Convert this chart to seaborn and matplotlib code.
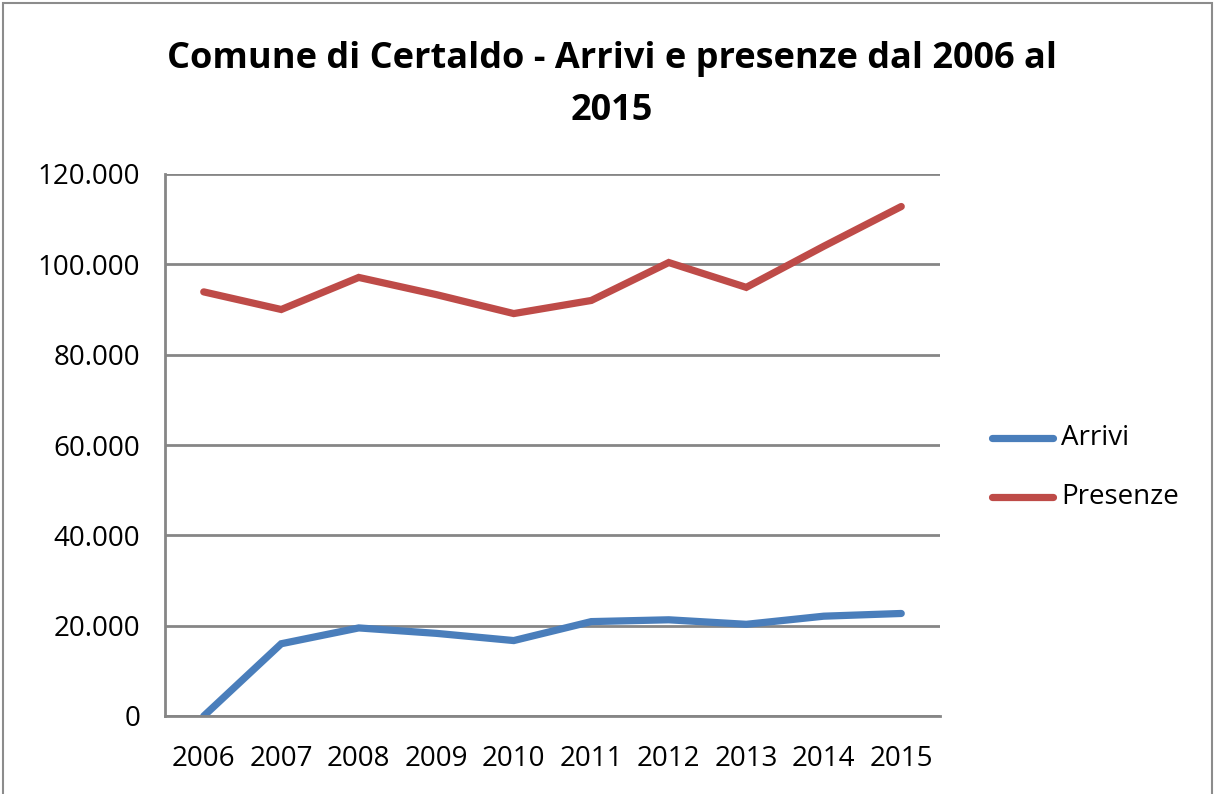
import matplotlib
matplotlib.use("Agg")
import matplotlib.pyplot as plt
import seaborn as sns
import pandas as pd
from matplotlib.patches import Rectangle

anni = ["2006", "2007", "2008", "2009", "2010", "2011", "2012", "2013", "2014", "2015"]
arrivi = [0, 16000, 19500, 18300, 16700, 20900, 21300, 20300, 22100, 22700]
presenze = [93900, 90000, 97100, 93300, 89100, 92000, 100400, 94900, 104000, 112800]
serie = ["Arrivi", "Presenze"]
colori = ["#4A7EBB", "#BE4B48"]
y_ticks = [0, 20000, 40000, 60000, 80000, 100000, 120000]

df = pd.DataFrame({
    "Anno": anni * 2,
    "pos": list(range(len(anni))) * 2,
    "Valore": arrivi + presenze,
    "Serie": [serie[0]] * len(anni) + [serie[1]] * len(anni),
})

sns.set_theme(style="white")
plt.rcParams["font.family"] = ["Open Sans", "DejaVu Sans"]
plt.rcParams["text.color"] = "black"

fig = plt.figure(figsize=(12.15, 7.94), dpi=100)
ax = fig.add_axes([165 / 1215, 1 - 716 / 794, (940 - 165) / 1215, (716 - 174) / 794])

sns.lineplot(data=df, x="pos", y="Valore", hue="Serie", palette=colori,
             linewidth=5.2, ax=ax, legend=False, solid_capstyle="round",
             solid_joinstyle="miter")

ax.set_xlim(-0.5, len(anni) - 0.5)
ax.set_ylim(0, 120000)
ax.set_yticks(y_ticks)
ax.set_yticklabels([f"{v:,}".replace(",", ".") for v in y_ticks])
ax.set_xticks(range(len(anni)))
ax.set_xticklabels(anni)
ax.tick_params(axis="both", length=0, labelsize=20, colors="#000000")
ax.tick_params(axis="y", pad=18)
ax.tick_params(axis="x", pad=21)
ax.set_xlabel("")
ax.set_ylabel("")
ax.yaxis.grid(True, color="#868686", linewidth=2.0)
ax.set_axisbelow(True)
for s in ["top", "right"]:
    ax.spines[s].set_visible(False)
for s in ["left", "bottom"]:
    ax.spines[s].set_color("#868686")
    ax.spines[s].set_linewidth(2.0)

fig.text(612 / 1215, 1 - 85 / 794,
         "Comune di Certaldo - Arrivi e presenze dal 2006 al\n2015",
         ha="center", va="center", fontsize=26, fontweight="bold",
         linespacing=1.58, color="black")

# legend on the right
for i, (nome, col) in enumerate(zip(serie, colori)):
    y = 1 - (438 + i * 59) / 794
    fig.add_artist(plt.Line2D([992 / 1215, 1053 / 1215], [y, y], color=col,
                              linewidth=5.2, solid_capstyle="round",
                              transform=fig.transFigure))
    fig.text(1061 / 1215, y, nome, ha="left", va="center", fontsize=20,
             color="black")

# outer chart frame
fig.add_artist(Rectangle((3 / 1215, -0.01), 1209 / 1215, 1 - 3 / 794 + 0.01,
                         transform=fig.transFigure, fill=False,
                         edgecolor="#8C8C8C", linewidth=1.5))

fig.savefig("out.png", dpi=100)
